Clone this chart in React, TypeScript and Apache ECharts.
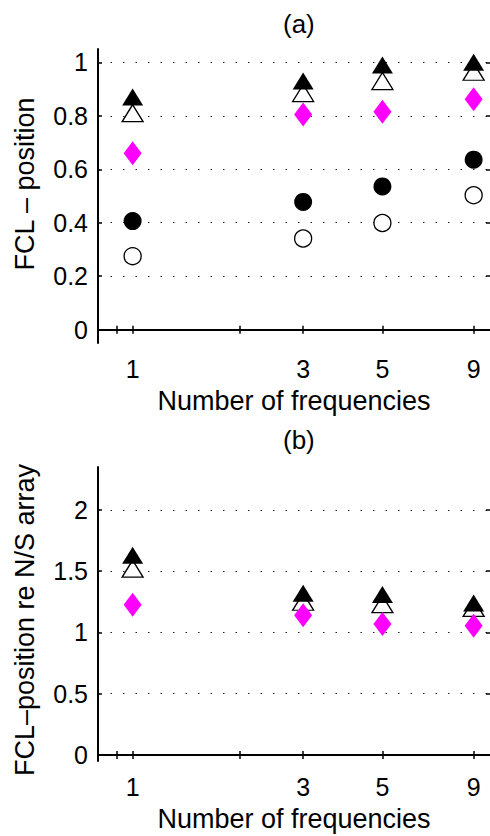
import React, { useEffect, useRef } from "react";
import * as echarts from "echarts";

const frequencies = [1, 3, 5, 9];
const xTickValues = [0.9, 1, 2, 3, 5, 9];

// Panel (a): FCL – position
const filledTriangleA = [0.87, 0.93, 0.99, 1.0];
const openTriangleA = [0.81, 0.885, 0.93, 0.965];
const diamondA = [0.66, 0.805, 0.815, 0.862];
const filledCircleA = [0.406, 0.478, 0.536, 0.636];
const openCircleA = [0.275, 0.341, 0.399, 0.503];
const yTicksA = [0, 0.2, 0.4, 0.6, 0.8, 1];

// Panel (b): FCL–position re N/S array
const filledTriangleB = [1.63, 1.32, 1.31, 1.24];
const openTriangleB = [1.52, 1.25, 1.23, 1.2];
const diamondB = [1.226, 1.139, 1.068, 1.055];
const yTicksB = [0, 0.5, 1, 1.5, 2];

const FONT = "'Liberation Sans', Arial, Helvetica, sans-serif";

function pts(vals: number[]) {
  return frequencies.map((f, i) => [f, vals[i]]);
}

function xAxes(grid: number, name: string) {
  const common = {
    gridIndex: grid,
    type: "log" as const,
    logBase: 10,
    min: 0.8,
    max: 10,
    splitLine: { show: false },
    minorTick: { show: false },
    axisLine: { show: true, lineStyle: { color: "#000", width: 2 } },
    axisTick: {
      show: true,
      inside: true,
      length: 4,
      customValues: xTickValues,
      lineStyle: { color: "#000", width: 1.5 },
    },
  };
  return [
    {
      ...common,
      position: "bottom",
      axisLabel: {
        show: true,
        customValues: frequencies,
        formatter: (v: number) => String(Math.round(v)),
        color: "#000",
        fontSize: 25,
        fontFamily: FONT,
        margin: 13,
      },
      name,
      nameLocation: "middle",
      nameGap: 44,
      nameTextStyle: { color: "#000", fontSize: 27, fontFamily: FONT },
    },
    {
      ...common,
      position: "top",
      axisLabel: { show: false },
    },
  ];
}

function yAxes(grid: number, min: number, max: number, ticks: number[], name: string, pad: number[], gap: number) {
  const tick = {
    show: true,
    inside: true,
    length: 4,
    customValues: ticks,
    lineStyle: { color: "#000", width: 1.5 },
  };
  return [
    {
      gridIndex: grid,
      type: "value" as const,
      position: "left",
      min,
      max,
      axisLine: { show: true, lineStyle: { color: "#000", width: 2 } },
      axisTick: tick,
      axisLabel: {
        show: true,
        customValues: ticks,
        formatter: (v: number) => String(v),
        color: "#000",
        fontSize: 25,
        fontFamily: FONT,
        margin: 10,
      },
      splitLine: {
        show: true,
        lineStyle: { color: "#222", width: 1.2, type: [1.5, 11] },
      },
      name,
      nameLocation: "middle",
      nameGap: gap,
      nameTextStyle: { color: "#000", fontSize: 27, fontFamily: FONT, padding: pad },
    },
    {
      gridIndex: grid,
      type: "value" as const,
      position: "right",
      min,
      max,
      axisLine: { show: false },
      axisTick: tick,
      axisLabel: { show: false },
      splitLine: { show: false },
    },
  ];
}

function scatter(
  x: number,
  y: number,
  vals: number[],
  symbol: string,
  size: number | number[],
  fill: string,
  border: string,
  bw: number
) {
  return {
    type: "scatter",
    xAxisIndex: x,
    yAxisIndex: y,
    data: pts(vals),
    symbol,
    symbolSize: size,
    itemStyle: { color: fill, borderColor: border, borderWidth: bw, opacity: 1 },
    emphasis: { disabled: true },
    silent: true,
  };
}

const TRI = [21, 17];
const DIA = [18, 24];

export default function App() {
  const ref = useRef<HTMLDivElement>(null);
  useEffect(() => {
    const chart = echarts.init(ref.current!, null, { renderer: "svg" });
    chart.setOption({
      animation: false,
      backgroundColor: "#fff",
      textStyle: { fontFamily: FONT },
      title: [
        { text: "(a)", left: 278, top: 6, textStyle: { fontSize: 26, fontWeight: "normal", color: "#000", fontFamily: FONT } },
        { text: "(b)", left: 278, top: 422, textStyle: { fontSize: 26, fontWeight: "normal", color: "#000", fontFamily: FONT } },
      ],
      grid: [
        { left: 98, top: 49, width: 393, height: 294 },
        { left: 98, top: 467, width: 393, height: 294 },
      ],
      xAxis: [...xAxes(0, "Number of frequencies"), ...xAxes(1, "Number of frequencies")],
      yAxis: [
        ...yAxes(0, -0.05, 1.05, yTicksA, "FCL – position", [0, 0, 0, 24], 60),
        ...yAxes(1, -0.05, 2.35, yTicksB, "FCL–position re N/S array", [0, 12, 0, 0], 60),
      ],
      series: [
        scatter(0, 0, openCircleA, "circle", 17, "#fff", "#000", 1.3),
        scatter(0, 0, filledCircleA, "circle", 18, "#000", "#000", 0),
        scatter(0, 0, openTriangleA, "triangle", TRI, "#fff", "#000", 1.3),
        scatter(0, 0, filledTriangleA, "triangle", TRI, "#000", "#000", 0),
        scatter(0, 0, diamondA, "diamond", DIA, "#ff00ff", "#ff00ff", 0),
        scatter(2, 2, openTriangleB, "triangle", TRI, "#fff", "#000", 1.3),
        scatter(2, 2, filledTriangleB, "triangle", TRI, "#000", "#000", 0),
        scatter(2, 2, diamondB, "diamond", DIA, "#ff00ff", "#ff00ff", 0),
      ],
    });
    return () => chart.dispose();
  }, []);
  return (
    <div
      ref={ref}
      style={{ position: "fixed", left: 0, top: 0, width: 490, height: 836, background: "#fff" }}
    />
  );
}
